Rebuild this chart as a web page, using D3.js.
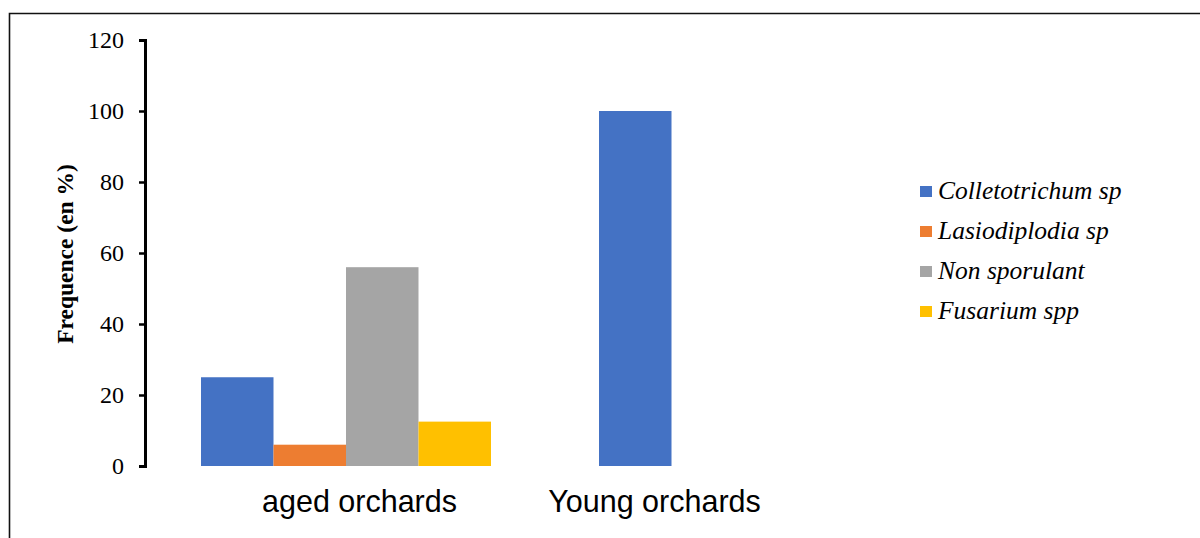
<!DOCTYPE html>
<html>
<head>
<meta charset="utf-8">
<script src="https://cdn.jsdelivr.net/npm/d3@7/dist/d3.min.js"></script>
<style>
  html, body { margin: 0; padding: 0; background: #fff; }
  svg { display: block; }
</style>
</head>
<body>
<svg id="chart" width="1200" height="538"></svg>
<script>
// Orchard categories and fungal isolate groups
const categories = ["aged orchards", "Young orchards"];
const seriesNames = ["Colletotrichum sp", "Lasiodiplodia sp", "Non sporulant", "Fusarium spp"];
const seriesColors = ["#4472C4", "#ED7D31", "#A5A5A5", "#FFC000"];
// Frequency (%) of each isolate group per orchard category
const colletotrichum = [25, 100];
const lasiodiplodia = [6, 0];
const nonSporulant = [56, 0];
const fusarium = [12.5, 0];
const yTicks = [0, 20, 40, 60, 80, 100, 120];

const seriesValues = [colletotrichum, lasiodiplodia, nonSporulant, fusarium];
const rows = categories.map((c, i) => ({
  category: c,
  values: seriesNames.map((s, j) => ({ series: s, value: seriesValues[j][i], color: seriesColors[j] }))
}));

const svg = d3.select("#chart");

// Outer frame (top and left edges visible)
svg.append("path")
  .attr("d", "M9.5,538 L9.5,13.5 L1200,13.5")
  .attr("fill", "none")
  .attr("stroke", "#111")
  .attr("stroke-width", 1.6);

const plotLeft = 145, plotBottom = 466, plotTop = 40;

const y = d3.scaleLinear().domain([0, 120]).range([plotBottom, plotTop]);
const x0 = d3.scaleBand().domain(categories).range([plotLeft, plotLeft + 796]).padding(0);
const x1 = d3.scaleBand().domain(seriesNames).range([56, 346]).padding(0);
// category labels sit on their own band positions
const xLabel = d3.scaleBand().domain(categories).range([212, 802]).padding(0);

// Bars
const groups = svg.append("g").selectAll("g")
  .data(rows).join("g")
  .attr("transform", d => `translate(${x0(d.category)},0)`);

groups.selectAll("rect")
  .data(d => d.values.filter(v => v.value > 0))
  .join("rect")
  .attr("x", d => x1(d.series))
  .attr("width", x1.bandwidth())
  .attr("y", d => y(d.value))
  .attr("height", d => y(0) - y(d.value))
  .attr("fill", d => d.color);

// Y axis
const yAxis = d3.axisLeft(y).tickValues(yTicks).tickSize(6).tickSizeOuter(6).tickPadding(15);
const gy = svg.append("g")
  .attr("transform", `translate(${plotLeft},0)`)
  .call(yAxis);
gy.select(".domain").attr("stroke", "#000").attr("stroke-width", 3);
gy.selectAll(".tick line").attr("stroke", "#000").attr("stroke-width", 2.5);
gy.selectAll(".tick text")
  .attr("font-family", "'Liberation Serif', 'Times New Roman', serif")
  .attr("font-size", 24)
  .attr("fill", "#000");

// Y axis title
svg.append("text")
  .attr("transform", `translate(73,${(plotTop + plotBottom) / 2 + 1}) rotate(-90)`)
  .attr("text-anchor", "middle")
  .attr("font-family", "'Liberation Serif', 'Times New Roman', serif")
  .attr("font-weight", "bold")
  .attr("font-size", 23.5)
  .attr("fill", "#000")
  .text("Frequence (en %)");

// Category labels
svg.append("g").selectAll("text")
  .data(categories).join("text")
  .attr("x", d => xLabel(d) + xLabel.bandwidth() / 2)
  .attr("y", 512)
  .attr("text-anchor", "middle")
  .attr("font-family", "'Liberation Sans', Arial, sans-serif")
  .attr("font-size", 30.5)
  .attr("fill", "#000")
  .text(d => d);

// Legend
const legend = svg.append("g").attr("transform", "translate(920,185)");
const ly = d3.scaleBand().domain(seriesNames).range([0, 160]);
const items = legend.selectAll("g").data(seriesNames).join("g")
  .attr("transform", d => `translate(0,${ly(d)})`);
items.append("rect")
  .attr("width", 12).attr("height", 11).attr("y", 1)
  .attr("fill", (d, i) => seriesColors[i]);
items.append("text")
  .attr("x", 18).attr("y", 14)
  .attr("font-family", "'Liberation Serif', 'Times New Roman', serif")
  .attr("font-style", "italic")
  .attr("font-size", 25.5)
  .attr("fill", "#000")
  .text(d => d);
</script>
</body>
</html>
